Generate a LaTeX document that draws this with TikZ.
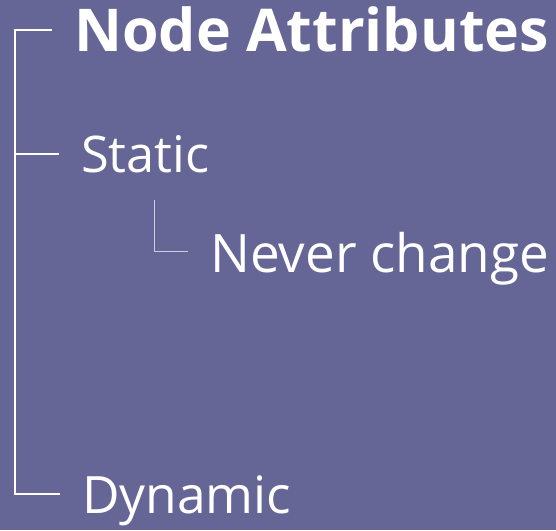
\documentclass[tikz,border=0pt]{standalone}
\usepackage{fontspec}
\setmainfont{Open Sans}
\definecolor{bgpurple}{RGB}{101,101,150}
\definecolor{twig}{RGB}{205,205,225}
\begin{document}
\begin{tikzpicture}[x=1pt,y=1pt,
  label/.style={anchor=base west, inner sep=0pt, text=white},
  branch/.style={draw=white, line width=2pt},
  subbranch/.style={draw=twig, line width=1pt}]
  \fill[bgpurple] (0,0) rectangle (556,530);
  \useasboundingbox (0,0) rectangle (556,530);

  % labels
  \node[label, font=\fontsize{59}{65}\selectfont\bfseries] (root) at (74,478) {Node Attributes};
  \node[label, font=\fontsize{50.5}{57}\selectfont] (static) at (81,357) {Static};
  \node[label, font=\fontsize{53}{60}\selectfont] (never) at (210,257) {Never change};
  \node[label, font=\fontsize{51.5}{58}\selectfont] (dynamic) at (82,17) {Dynamic};

  % trunk and ticks
  \coordinate (trunktop) at (14.5,500);
  \coordinate (trunkbot) at (14.5,36);
  \coordinate (roottick) at (52,500);
  \coordinate (statictick) at (59,376);
  \coordinate (dyntick) at (60,36);
  \draw[branch] (roottick) -- (trunktop) -- (trunkbot) -- (dyntick);
  \draw[branch] (trunktop |- statictick) -- (statictick);

  % sub-branch under Static
  \coordinate (subtop) at (154,330);
  \coordinate (subbot) at (154,278);
  \coordinate (subtick) at (188,278);
  \draw[subbranch] (subtop) -- (subbot) -- (subtick);
\end{tikzpicture}
\end{document}
